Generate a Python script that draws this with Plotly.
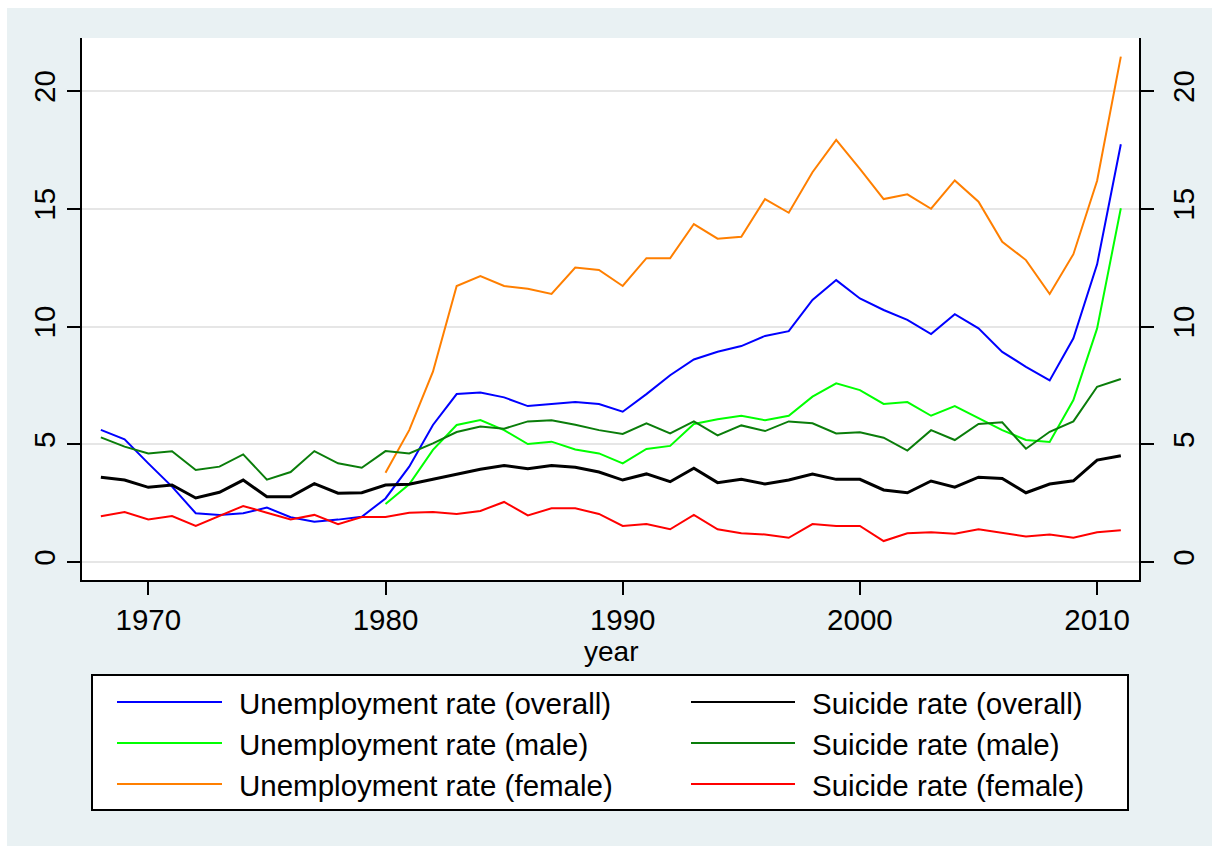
import plotly.graph_objects as go

# ---------------- data ----------------
years = list(range(1968, 2012))
years_sex = list(range(1980, 2012))

unemp_overall = [5.61, 5.21, 4.19, 3.20, 2.07, 2.00, 2.07, 2.31, 1.90, 1.71, 1.80, 1.92, 2.70,
                 4.05, 5.82, 7.13, 7.20, 6.99, 6.62, 6.71, 6.79, 6.71, 6.38, 7.13, 7.93, 8.60, 8.93,
                 9.17, 9.60, 9.80, 11.13, 11.97, 11.19, 10.70, 10.28, 9.68, 10.52, 9.92, 8.92, 8.29,
                 7.71, 9.50, 12.64, 17.74]
unemp_male = [2.46, 3.30, 4.76, 5.82, 6.03, 5.60, 5.01, 5.11, 4.78, 4.61, 4.19, 4.80, 4.93, 5.86,
              6.06, 6.21, 6.02, 6.21, 7.02, 7.59, 7.30, 6.71, 6.79, 6.21, 6.62, 6.10, 5.60, 5.18,
              5.10, 6.88, 9.92, 15.02]
unemp_female = [3.79, 5.60, 8.08, 11.72, 12.14, 11.72, 11.60, 11.38, 12.50, 12.40, 11.72, 12.90,
                12.90, 14.35, 13.73, 13.81, 15.41, 14.83, 16.55, 17.92, 16.69, 15.41, 15.61, 15.00,
                16.20, 15.30, 13.60, 12.82, 11.38, 13.07, 16.19, 21.46]
suicide_overall = [3.60, 3.48, 3.17, 3.27, 2.72, 2.96, 3.48, 2.77, 2.77, 3.33, 2.92, 2.94, 3.27,
                   3.30, 3.51, 3.74, 3.94, 4.10, 3.96, 4.10, 4.02, 3.82, 3.48, 3.74, 3.41, 3.98, 3.37,
                   3.51, 3.31, 3.48, 3.74, 3.51, 3.51, 3.06, 2.94, 3.44, 3.18, 3.60, 3.55, 2.94,
                   3.31, 3.45, 4.33, 4.51]
suicide_male = [5.29, 4.90, 4.61, 4.70, 3.91, 4.05, 4.57, 3.50, 3.82, 4.71, 4.19, 4.00, 4.71,
                4.61, 5.04, 5.52, 5.75, 5.66, 5.97, 6.02, 5.83, 5.60, 5.44, 5.89, 5.46, 5.97, 5.38,
                5.80, 5.56, 5.97, 5.89, 5.46, 5.51, 5.28, 4.73, 5.60, 5.18, 5.86, 5.93, 4.81,
                5.53, 5.97, 7.44, 7.77]
suicide_female = [1.94, 2.12, 1.81, 1.95, 1.53, 1.95, 2.38, 2.09, 1.81, 2.00, 1.61, 1.91, 1.91,
                  2.09, 2.12, 2.04, 2.17, 2.55, 1.98, 2.28, 2.28, 2.04, 1.53, 1.61, 1.39, 2.00, 1.39,
                  1.22, 1.17, 1.03, 1.61, 1.53, 1.53, 0.89, 1.22, 1.26, 1.20, 1.39, 1.22, 1.08,
                  1.17, 1.03, 1.26, 1.35]

labels = ["Unemployment rate (overall)", "Unemployment rate (male)", "Unemployment rate (female)",
          "Suicide rate (overall)", "Suicide rate (male)", "Suicide rate (female)"]
x_ticks = [1970, 1980, 1990, 2000, 2010]
y_ticks = [0, 5, 10, 15, 20]
x_title = "year"

# ---------------- styling ----------------
W, H = 1212, 846
L, R, T, B = 82, 73, 38, 266
FONT = "Liberation Sans, Arial, sans-serif"
BG = "#E9F1F3"
colors = ["#0000FF", "#00FF00", "#FF7F00", "#000000", "#0A7D0A", "#FF0000"]
widths = [2, 2, 2, 3, 2, 2]

series = [(years, unemp_overall), (years_sex, unemp_male), (years_sex, unemp_female),
          (years, suicide_overall), (years, suicide_male), (years, suicide_female)]

fig = go.Figure()
for (xs, ys), name, c, w in zip(series, labels, colors, widths):
    fig.add_trace(go.Scatter(x=xs, y=ys, mode="lines", name=name,
                             line=dict(color=c, width=w), showlegend=False))
# empty trace so that the mirrored right-hand axis is drawn
fig.add_trace(go.Scatter(x=[], y=[], yaxis="y2", showlegend=False, hoverinfo="skip"))

PW, PH = W - L - R, H - T - B


def px2x(px):
    return (px - L) / PW


def px2y(py):
    return (H - B - py) / PH


shapes = [
    # white outer border strips
    dict(type="rect", xref="paper", yref="paper", x0=px2x(0), x1=px2x(W), y0=px2y(0), y1=px2y(8),
         fillcolor="white", line=dict(width=0), layer="below"),
    dict(type="rect", xref="paper", yref="paper", x0=px2x(0), x1=px2x(7), y0=px2y(0), y1=px2y(H),
         fillcolor="white", line=dict(width=0), layer="below"),
    # legend box
    dict(type="rect", xref="paper", yref="paper", x0=px2x(92), x1=px2x(1128), y0=px2y(675), y1=px2y(810),
         fillcolor="white", line=dict(color="black", width=2), layer="below"),
]
annotations = [dict(xref="paper", yref="paper", x=0.5, y=px2y(651), text=x_title, showarrow=False,
                    xanchor="center", yanchor="middle", font=dict(family=FONT, size=28, color="black"))]
col_line = [(117, 222, 237), (691, 795, 810)]
row_y = [702, 743, 784]
order = [0, 3, 1, 4, 2, 5]
for k, idx in enumerate(order):
    col = k % 2
    row = k // 2
    lx0, lx1, tx = col_line[col]
    yy = row_y[row]
    shapes.append(dict(type="line", xref="paper", yref="paper", x0=px2x(lx0), x1=px2x(lx1),
                       y0=px2y(yy), y1=px2y(yy), line=dict(color=colors[idx], width=2)))
    annotations.append(dict(xref="paper", yref="paper", x=px2x(tx), y=px2y(yy + 1), text=labels[idx],
                            showarrow=False, xanchor="left", yanchor="middle",
                            font=dict(family=FONT, size=29.5, color="black")))

axis_common = dict(showline=True, linecolor="black", linewidth=2, ticks="outside", ticklen=13,
                   tickwidth=2, tickcolor="black", tickfont=dict(family=FONT, size=29.5, color="black"))

fig.update_layout(
    width=W, height=H,
    margin=dict(l=L, r=R, t=T, b=B, pad=0, autoexpand=False),
    paper_bgcolor=BG, plot_bgcolor="white",
    font=dict(family=FONT, size=28, color="black"),
    xaxis=dict(range=[1967.205, 2011.766], tickvals=x_ticks, showgrid=False, zeroline=False,
               **axis_common),
    yaxis=dict(range=[-0.764, 22.25], tickvals=y_ticks, tickangle=-90, showgrid=True,
               gridcolor="#E6E6E6", gridwidth=2, zeroline=False, **axis_common),
    yaxis2=dict(range=[-0.764, 22.25], tickvals=y_ticks, tickangle=-90, overlaying="y", side="right",
                anchor="x", showgrid=False, zeroline=False, autorange=False, ticklabelstandoff=5,
                **axis_common),
    shapes=shapes, annotations=annotations, showlegend=False,
)

fig.write_html("out.html")
